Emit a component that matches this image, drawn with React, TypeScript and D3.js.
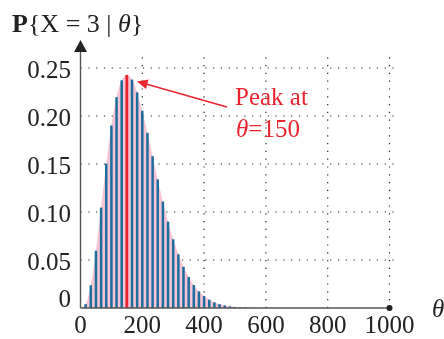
import React from "react";
import * as d3 from "d3";

const thetas = [0, 16.7, 33.3, 50, 66.7, 83.3, 100, 116.7, 133.3, 150, 166.7, 183.3, 200, 216.7, 233.3, 250, 266.7, 283.3, 300, 316.7, 333.3, 350, 366.7, 383.3, 400, 416.7, 433.3, 450, 466.7, 483.3, 500, 516.7, 533.3, 550, 566.7, 583.3, 600];
const probs = [0, 0.004, 0.0237, 0.0596, 0.1046, 0.1503, 0.1901, 0.2197, 0.2372, 0.2428, 0.2379, 0.2246, 0.2054, 0.1825, 0.1581, 0.1339, 0.1109, 0.09, 0.0716, 0.0559, 0.0429, 0.0323, 0.0239, 0.0173, 0.0124, 0.0087, 0.0059, 0.004, 0.0027, 0.0017, 0.0011, 0.0007, 0.0004, 0.0003, 0.0002, 0.0001, 0];
const xTicks = [0, 200, 400, 600, 800, 1000];
const yTicks = [0, 0.05, 0.1, 0.15, 0.2, 0.25];
const peakTheta = 150;

const FONT = "'Liberation Serif', 'DejaVu Serif', serif";
const BLUE = "#1c6e9c";
const PINK = "#f7c4d6";
const RED = "#e8252f";

export default function App() {
  const x = d3.scaleLinear().domain([0, 1000]).range([80.5, 389.5]);
  const y = d3.scaleLinear().domain([0, 0.25]).range([308, 68]);
  const data = thetas.map((t, i) => ({ t, p: probs[i] }));
  const area = d3
    .area<{ t: number; p: number }>()
    .x((d) => x(d.t))
    .y0(y(0))
    .y1((d) => y(d.p))
    .curve(d3.curveMonotoneX);
  const peakP = probs[thetas.indexOf(peakTheta)];

  return (
    <div style={{ position: "fixed", left: 0, top: 0 }}>
      <svg width={444} height={339} style={{ display: "block" }}>
        {yTicks.filter((v) => v > 0).map((v) => (
          <line key={"gy" + v} x1={x(0)} x2={399} y1={y(v)} y2={y(v)} stroke="#222" strokeWidth={1.2} strokeDasharray="1.2 6.6" />
        ))}
        {xTicks.filter((v) => v > 0).map((v) => (
          <line key={"gx" + v} x1={x(v)} x2={x(v)} y1={y(0)} y2={55} stroke="#222" strokeWidth={1.2} strokeDasharray="1.2 6.6" />
        ))}
        <path d={area(data) || ""} fill={PINK} />
        {data.filter((d) => d.t > 0 && d.p > 0 && d.t !== peakTheta).map((d) => (
          <rect key={"b" + d.t} x={x(d.t) - 1.25} width={2.5} y={y(d.p)} height={y(0) - y(d.p)} fill={BLUE} />
        ))}
        <rect x={x(peakTheta) - 1.4} width={2.8} y={y(peakP)} height={y(0) - y(peakP)} fill={RED} />
        <line x1={x(0)} x2={x(1000)} y1={y(0)} y2={y(0)} stroke="#555" strokeWidth={1.4} />
        <circle cx={x(1000)} cy={y(0)} r={3} fill="#222" />
        <line x1={x(0)} x2={x(0)} y1={y(0)} y2={51} stroke="#555" strokeWidth={1.4} />
        <path d={`M${x(0)},40 L${x(0) - 6.5},52 L${x(0) + 6.5},52 Z`} fill="#222" />
        {yTicks.map((v) => (
          <text key={"yl" + v} x={71} y={v === 0 ? 307 : y(v) + 10} textAnchor="end" fontFamily={FONT} fontSize={25} fill="#222">
            {v === 0 ? "0" : v.toFixed(2)}
          </text>
        ))}
        {xTicks.map((v) => (
          <text key={"xl" + v} x={x(v)} y={333} textAnchor="middle" fontFamily={FONT} fontSize={25} fill="#222">
            {v}
          </text>
        ))}
        <text x={12} y={32} fontFamily={FONT} fontSize={26} fill="#222">
          <tspan fontWeight="bold">P</tspan>
          <tspan>{"{X = 3 | "}</tspan>
          <tspan fontStyle="italic">θ</tspan>
          <tspan>{"}"}</tspan>
        </text>
        <text x={432} y={317} fontFamily={FONT} fontSize={25} fontStyle="italic" fill="#222">θ</text>
        <line x1={227} y1={107} x2={146} y2={84} stroke={RED} strokeWidth={1.6} />
        <path d="M137,81.5 L148.5,79.5 L146,89 Z" fill={RED} />
        <text x={235} y={105} fontFamily={FONT} fontSize={25} fill={RED}>Peak at</text>
        <text x={236} y={137} fontFamily={FONT} fontSize={25} fill={RED}>
          <tspan fontStyle="italic">θ</tspan>
          <tspan>=150</tspan>
        </text>
      </svg>
    </div>
  );
}
